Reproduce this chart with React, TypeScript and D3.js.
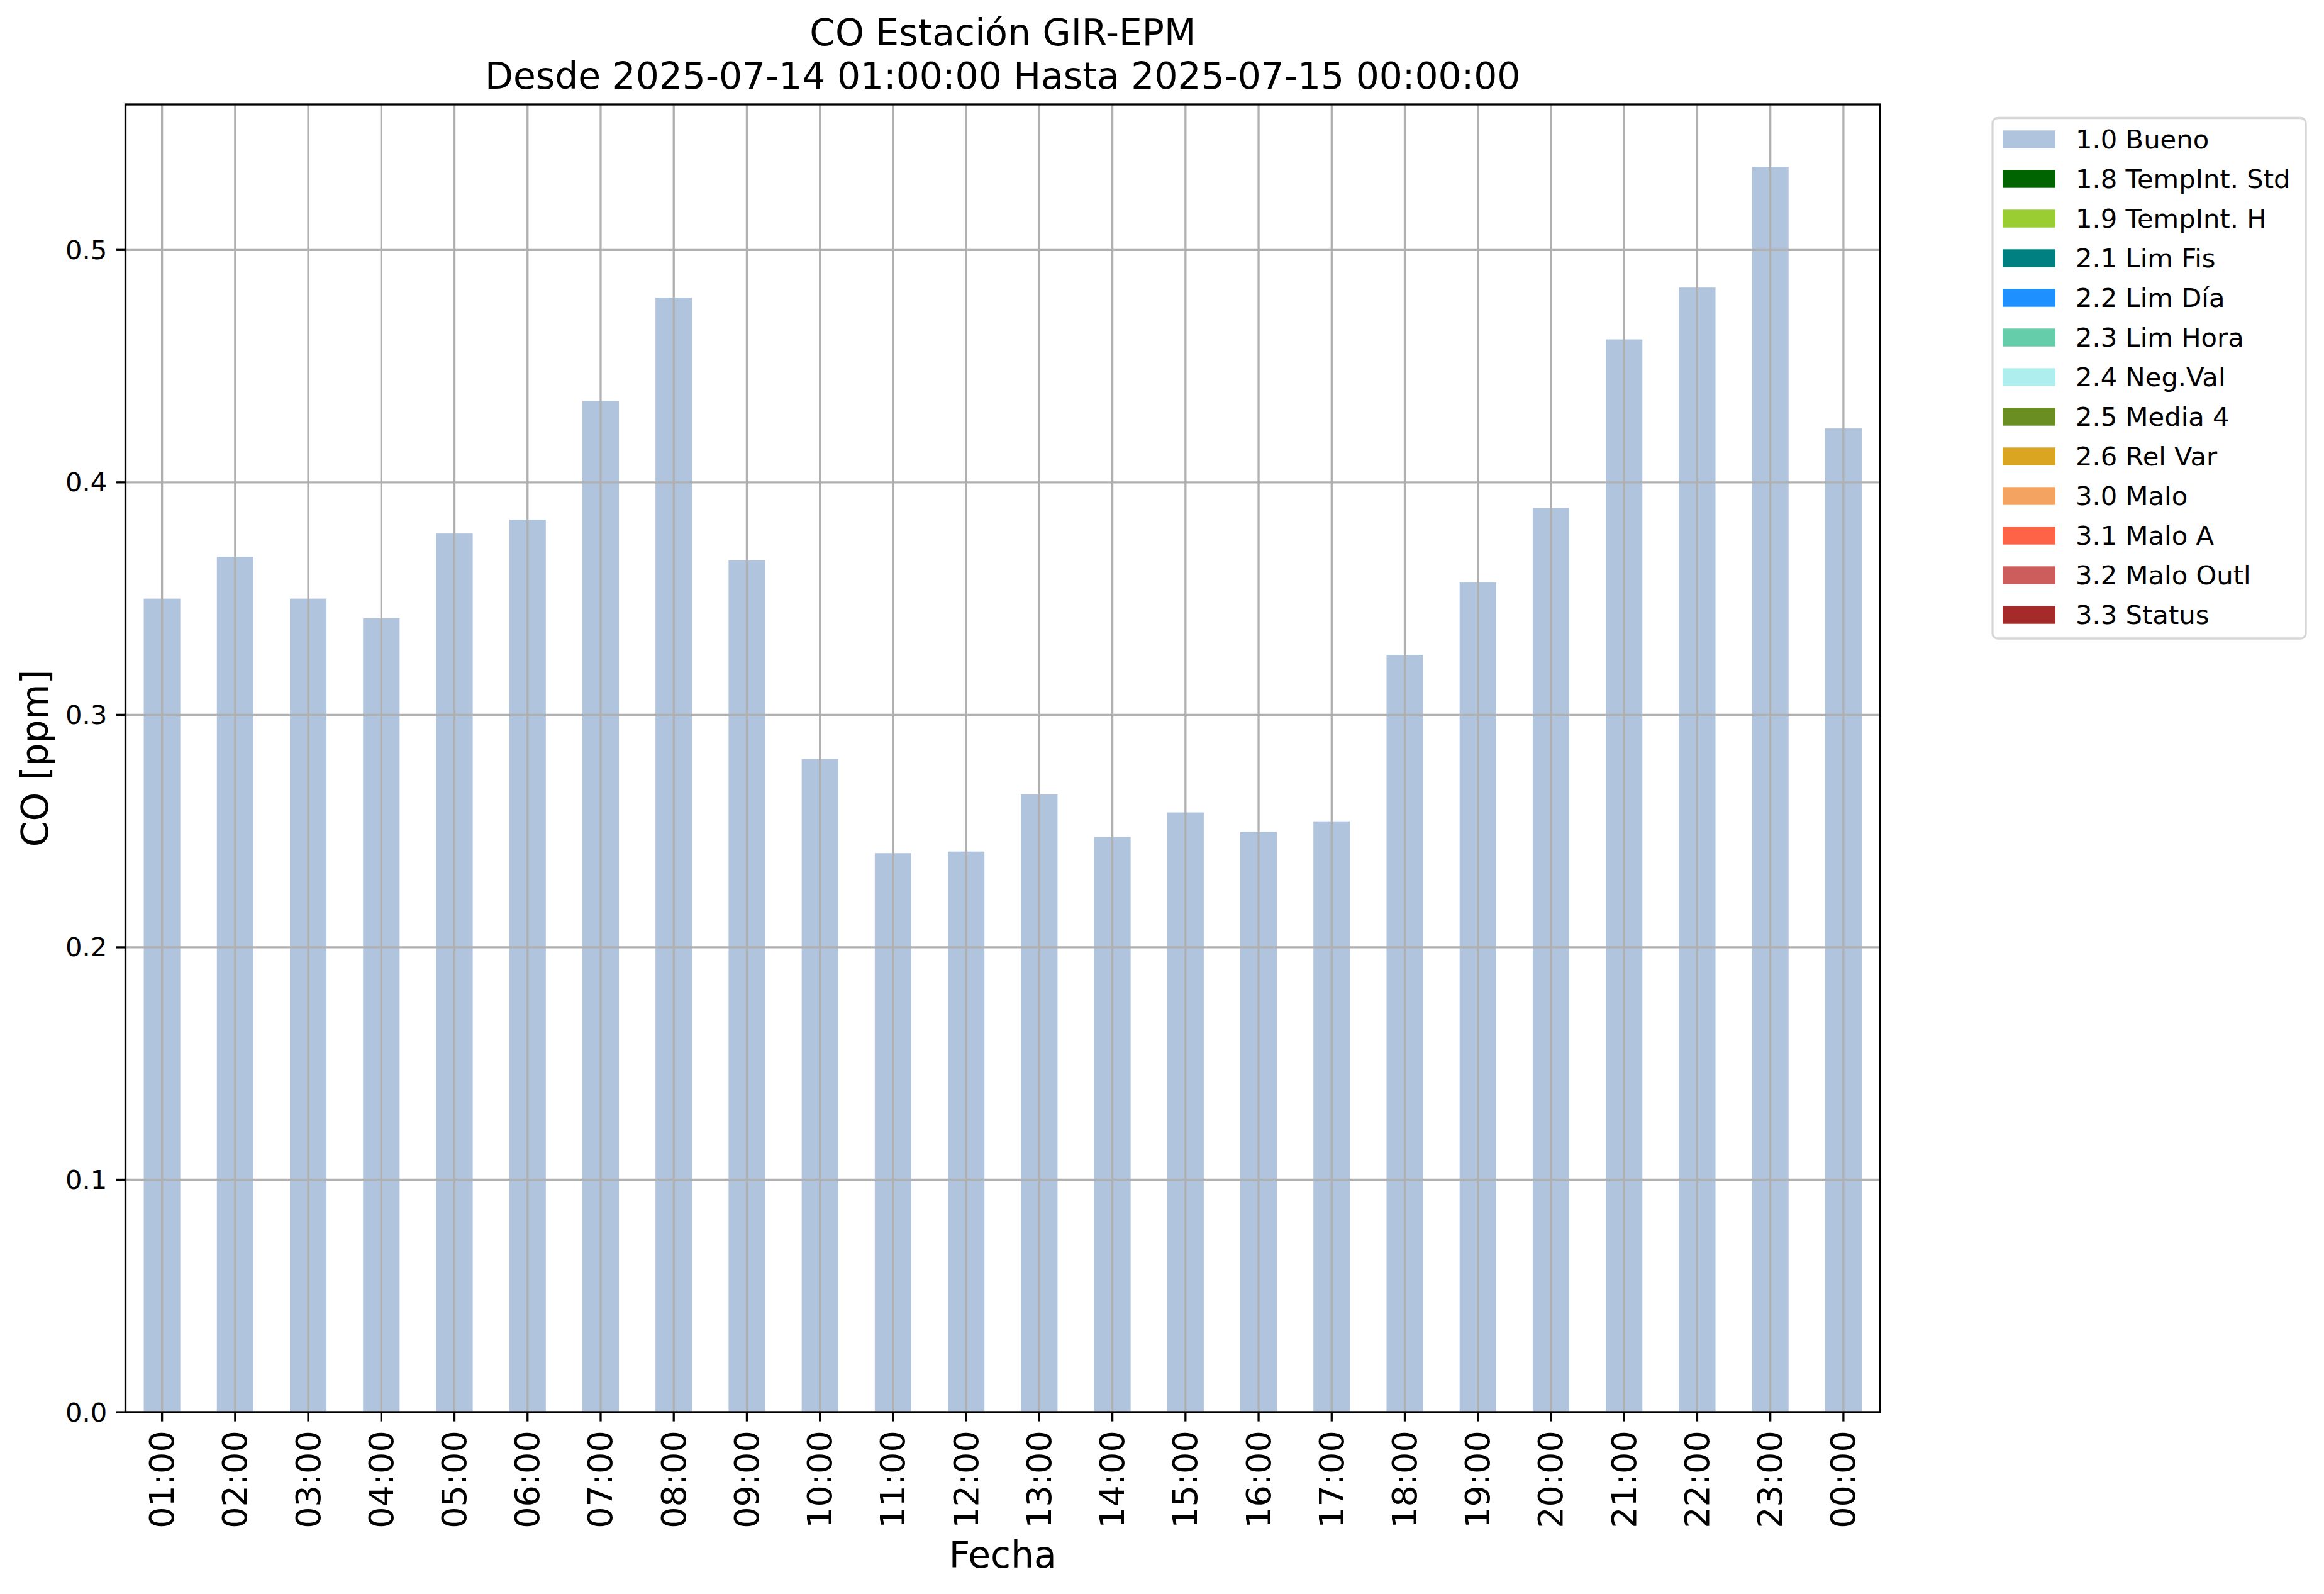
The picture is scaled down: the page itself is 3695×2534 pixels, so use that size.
import React, { useEffect } from "react";
import * as d3 from "d3";

const hours = ["01:00","02:00","03:00","04:00","05:00","06:00","07:00","08:00","09:00","10:00","11:00","12:00","13:00","14:00","15:00","16:00","17:00","18:00","19:00","20:00","21:00","22:00","23:00","00:00"];
const coValues = [0.350,0.368,0.350,0.3415,0.378,0.384,0.435,0.4795,0.3665,0.281,0.2405,0.2412,0.2658,0.2475,0.258,0.2497,0.2542,0.3258,0.357,0.389,0.4615,0.4838,0.5358,0.4232];
const yTicks = [0, 0.1, 0.2, 0.3, 0.4, 0.5];
const legendLabels = ["1.0 Bueno","1.8 TempInt. Std","1.9 TempInt. H","2.1 Lim Fis","2.2 Lim Día","2.3 Lim Hora","2.4 Neg.Val","2.5 Media 4","2.6 Rel Var","3.0 Malo","3.1 Malo A","3.2 Malo Outl","3.3 Status"];
const legendColors = ["#B0C4DE","#006400","#9ACD32","#008080","#1E90FF","#66CDAA","#AFEEEE","#6B8E23","#DAA520","#F4A460","#FF6347","#CD5C5C","#A52A2A"];
const titleLines = ["CO Estación GIR-EPM","Desde 2025-07-14 01:00:00 Hasta 2025-07-15 00:00:00"];

const W = 3695, H = 2534;
const L = 199.5, R = 2989, T = 166, B = 2245;
const FONT = "DejaVu Sans, sans-serif";

export default function App() {
  useEffect(() => { document.body.style.margin = "0"; }, []);
  const x = d3.scaleBand<string>().domain(hours).range([L, R]).paddingInner(0.5).paddingOuter(0.25);
  const yMax = (d3.max(coValues) as number) * 1.05;
  const y = d3.scaleLinear().domain([0, yMax]).range([B, T]);
  const grid = "#b0b0b0";
  const lw = 3.3;
  const tickLen = 14.6;
  const legX = 3168, legY = 187.5, legW = 498, legH = 827.5, pitch = 63;
  return (
    <svg width={W} height={H} style={{ display: "block", background: "#fff" }} fontFamily={FONT}>
      <rect x={0} y={0} width={W} height={H} fill="#fff" />
      {hours.map((h, i) => (
        <rect key={h} x={x(h)} y={y(coValues[i])} width={x.bandwidth()} height={B - y(coValues[i])} fill="#B0C4DE" />
      ))}
      {hours.map((h) => {
        const cx = (x(h) as number) + x.bandwidth() / 2;
        return <line key={"g" + h} x1={cx} x2={cx} y1={T} y2={B} stroke={grid} strokeWidth={lw} />;
      })}
      {yTicks.map((t) => (
        <line key={"gy" + t} x1={L} x2={R} y1={y(t)} y2={y(t)} stroke={grid} strokeWidth={lw} />
      ))}
      <rect x={L} y={T} width={R - L} height={B - T} fill="none" stroke="#000" strokeWidth={lw} />
      {yTicks.map((t) => (
        <g key={"yt" + t}>
          <line x1={L - tickLen} x2={L} y1={y(t)} y2={y(t)} stroke="#000" strokeWidth={lw} />
          <text x={L - tickLen - 14.6} y={y(t)} textAnchor="end" dominantBaseline="central" fontSize={41.7}>{t.toFixed(1)}</text>
        </g>
      ))}
      {hours.map((h) => {
        const cx = (x(h) as number) + x.bandwidth() / 2;
        return (
          <g key={"xt" + h}>
            <line x1={cx} x2={cx} y1={B} y2={B + tickLen} stroke="#000" strokeWidth={lw} />
            <text transform={`translate(${cx},${B + tickLen + 14.6}) rotate(-90)`} textAnchor="end" dominantBaseline="central" fontSize={54}>{h}</text>
          </g>
        );
      })}
      <text x={(L + R) / 2} y={2492} textAnchor="middle" fontSize={58.3}>Fecha</text>
      <text transform={`translate(76,${(T + B) / 2}) rotate(-90)`} textAnchor="middle" fontSize={58.3}>CO [ppm]</text>
      {titleLines.map((t, i) => (
        <text key={t} x={(L + R) / 2} y={72 + i * 69} textAnchor="middle" fontSize={58.3}>{t}</text>
      ))}
      <rect x={legX} y={legY} width={legW} height={legH} rx={8} ry={8} fill="#fff" stroke="#d6d6d6" strokeWidth={3.3} />
      {legendLabels.map((lab, i) => {
        const cy = 221.5 + i * pitch;
        return (
          <g key={lab}>
            <rect x={3184} y={cy - 14.2} width={84} height={28.4} fill={legendColors[i]} />
            <text x={3300} y={cy} dominantBaseline="central" fontSize={41.7}>{lab}</text>
          </g>
        );
      })}
    </svg>
  );
}
